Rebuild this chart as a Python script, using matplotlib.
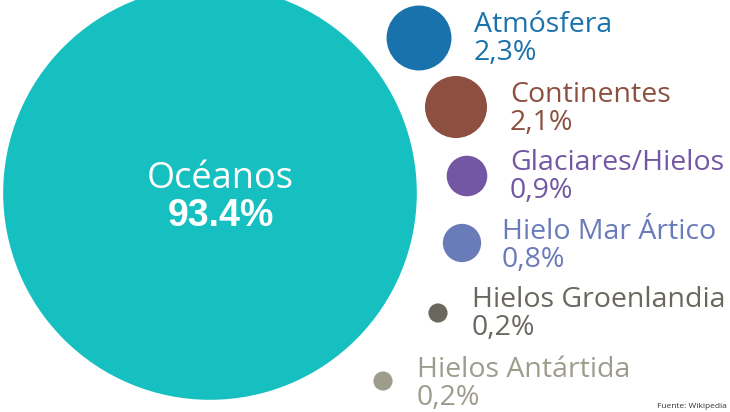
import numpy as np
import matplotlib.pyplot as plt
from matplotlib.patches import Circle

# data
labels = ["Atmósfera", "Continentes", "Glaciares/Hielos", "Hielo Mar Ártico",
          "Hielos Groenlandia", "Hielos Antártida"]
values = [2.3, 2.1, 0.9, 0.8, 0.2, 0.2]
value_text = ["2,3%", "2,1%", "0,9%", "0,8%", "0,2%", "0,2%"]
ocean_label = "Océanos"
ocean_value = 93.4

# styles / layout (pixel coordinates)
colors = ["#1a72ad", "#8d5040", "#7357a4", "#6a7bb9", "#6a675e", "#9e9c8c"]
centers = [(419, 38), (456, 107), (467, 176), (462, 243), (438, 313), (383, 381)]
text_pos = [(474, 25), (510, 95), (510, 163), (502, 232), (472, 300), (417, 370)]
ocean_center = (210, 193)
ocean_color = "#17c0c0"
k = 21.4  # radius per sqrt(percent)

plt.rcParams['font.family'] = ['Open Sans', 'DejaVu Sans']

fig = plt.figure(figsize=(7.3, 4.12), dpi=100)
ax = fig.add_axes([0, 0, 1, 1])
ax.set_xlim(0, 730)
ax.set_ylim(412, 0)
ax.axis('off')

ax.add_patch(Circle(ocean_center, k * np.sqrt(ocean_value), color=ocean_color, lw=0))
ax.text(220, 179, ocean_label, color='white', fontsize=26, ha='center', va='center')
ax.text(221, 216, f"{ocean_value}%", color='white', fontsize=27, fontweight='bold',
        ha='center', va='center', family=['Liberation Sans', 'DejaVu Sans'])

for lab, v, vt, c, ctr, tp in zip(labels, values, value_text, colors, centers, text_pos):
    ax.add_patch(Circle(ctr, k * np.sqrt(v), color=c, lw=0))
    ax.text(tp[0], tp[1], lab, color=c, fontsize=20.5, ha='left', va='center')
    ax.text(tp[0], tp[1] + 28, vt, color=c, fontsize=20.5, ha='left', va='center')

ax.text(727, 406, "Fuente: Wikipedia", fontsize=6, color='#333333', ha='right', va='center')

fig.savefig("out.png", dpi=100)
